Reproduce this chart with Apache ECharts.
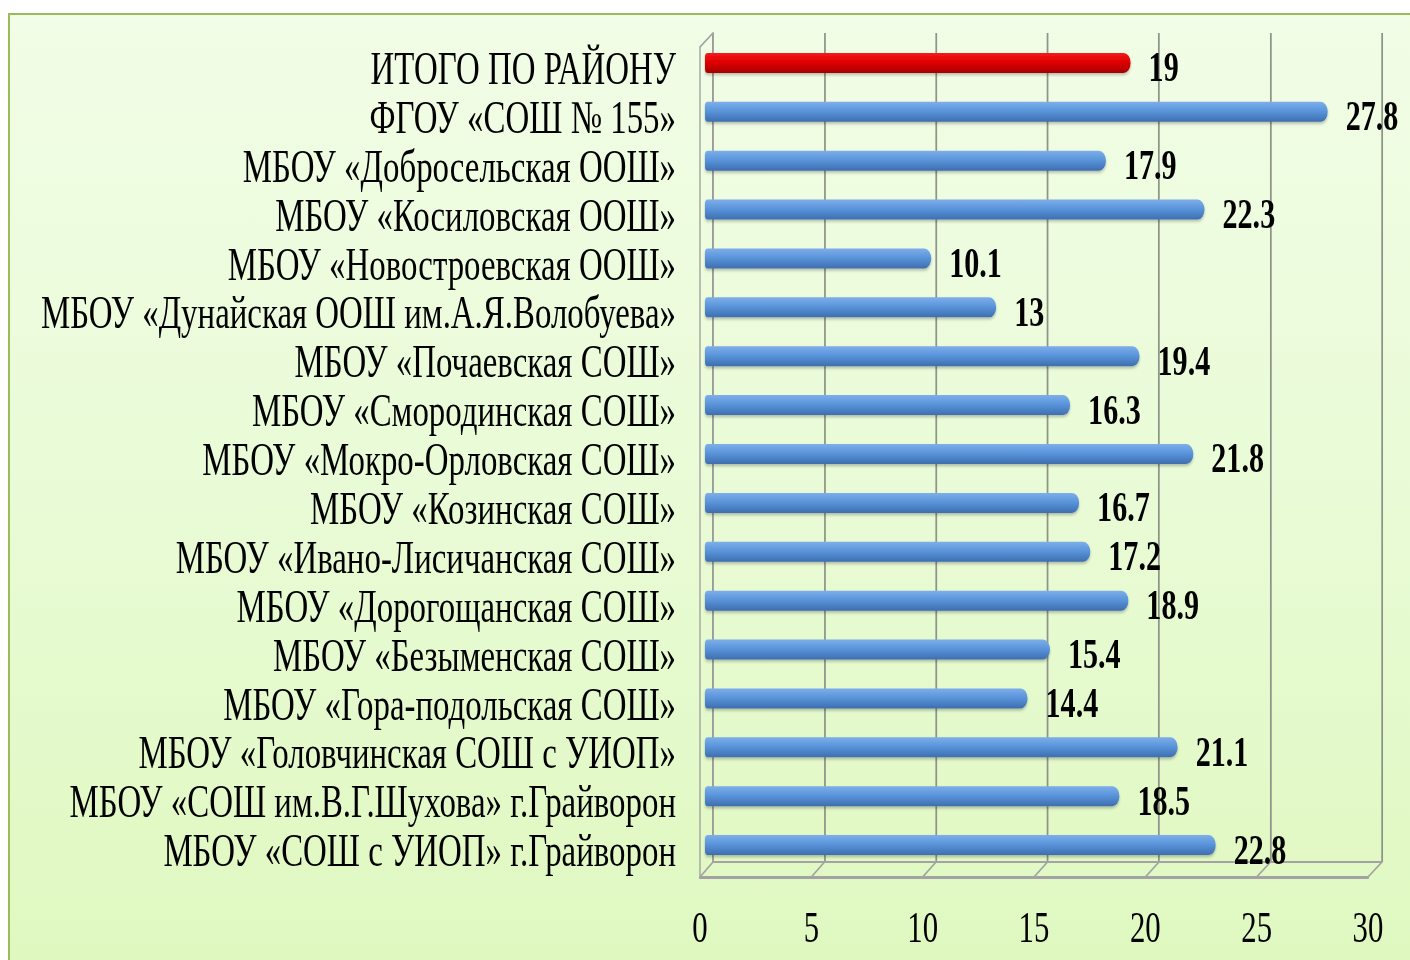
<!DOCTYPE html>
<html>
<head>
<meta charset="utf-8">
<script src="https://cdn.jsdelivr.net/npm/echarts@6/dist/echarts.min.js"></script>
<style>
  html, body { margin: 0; padding: 0; background: #ffffff; overflow: hidden; }
  #panel {
    position: absolute; left: 8px; top: 13px; width: 1420px; height: 960px;
    border-left: 2px solid #9bbb59; border-top: 2px solid #9bbb59;
    background: linear-gradient(180deg, #f1fde6 0%, #e9fbd6 50%, #dff8bf 100%);
  }
  /* the source text is condensed, so the whole chart is squeezed sideways */
  #chart {
    position: absolute; left: 0; top: 0; width: 2014.28px; height: 960px;
    transform: scaleX(0.7); transform-origin: 0 0;
  }
</style>
</head>
<body>
<div id="panel"></div>
<div id="chart"></div>
<script>
const categories = [
  "ИТОГО ПО РАЙОНУ",
  "ФГОУ «СОШ № 155»",
  "МБОУ «Добросельская ООШ»",
  "МБОУ «Косиловская ООШ»",
  "МБОУ «Новостроевская ООШ»",
  "МБОУ «Дунайская ООШ им.А.Я.Волобуева»",
  "МБОУ «Почаевская СОШ»",
  "МБОУ «Смородинская СОШ»",
  "МБОУ «Мокро-Орловская СОШ»",
  "МБОУ «Козинская СОШ»",
  "МБОУ «Ивано-Лисичанская СОШ»",
  "МБОУ «Дорогощанская СОШ»",
  "МБОУ «Безыменская СОШ»",
  "МБОУ «Гора-подольская СОШ»",
  "МБОУ «Головчинская СОШ с УИОП»",
  "МБОУ «СОШ им.В.Г.Шухова» г.Грайворон",
  "МБОУ «СОШ с УИОП» г.Грайворон",
];
const values = [19, 27.8, 17.9, 22.3, 10.1, 13, 19.4, 16.3, 21.8, 16.7, 17.2, 18.9, 15.4, 14.4, 21.1, 18.5, 22.8];
const xTicks = [0, 5, 10, 15, 20, 25, 30];
const totalIndex = 0; // the district total, drawn red

const S = 0.7;
const X = (v) => v / S; // page px -> chart px (before the squeeze)
const FONT = "'Liberation Serif', 'Times New Roman', serif";

const chart = echarts.init(document.getElementById("chart"), null, { renderer: "svg" });

const blue = new echarts.graphic.LinearGradient(0, 0, 0, 1, [
  { offset: 0, color: "#7eaeea" },
  { offset: 0.45, color: "#5a95db" },
  { offset: 1, color: "#3e6eb0" },
]);
const red = new echarts.graphic.LinearGradient(0, 0, 0, 1, [
  { offset: 0, color: "#f51c1c" },
  { offset: 0.45, color: "#e00000" },
  { offset: 1, color: "#a60000" },
]);

const barData = values.map((v, i) => ({
  value: v,
  itemStyle: { color: i === totalIndex ? red : blue },
}));

const wallLine = { color: "#a3a3a3", width: 2 };

const option = {
  animation: false,
  grid: [
    // back wall
    { left: X(713), top: 33, width: X(669), height: 829, outerBoundsMode: "none" },
    // front edge
    { left: X(700), top: 47, width: X(668), height: 830, outerBoundsMode: "none" },
    // bars
    { left: X(705), top: 38.5, width: X(672), height: 831, outerBoundsMode: "none" },
  ],
  xAxis: [
    {
      gridIndex: 0, type: "value", min: 0, max: 30, interval: 5,
      axisLine: { show: true, lineStyle: wallLine },
      axisTick: { show: false },
      axisLabel: { show: false },
      splitLine: { show: true, lineStyle: { color: "#8f948a", width: 2.5 } },
    },
    {
      gridIndex: 1, type: "value", min: 0, max: 30, interval: 5,
      axisLine: { show: true, lineStyle: { color: "#a3a3a3", width: 3 } },
      axisTick: { show: false },
      splitLine: { show: false },
      axisLabel: {
        show: true, color: "#000", fontSize: 44, fontFamily: FONT, margin: 28,
        formatter: (v) => (xTicks.includes(v) ? String(v) : ""),
      },
    },
    { gridIndex: 2, type: "value", min: 0, max: 30, show: false },
  ],
  yAxis: [
    {
      gridIndex: 0, type: "value", min: 0, max: 1,
      axisLine: { show: true, lineStyle: wallLine },
      axisTick: { show: false }, axisLabel: { show: false }, splitLine: { show: false },
    },
    {
      gridIndex: 1, type: "value", min: 0, max: 1,
      axisLine: { show: true, lineStyle: wallLine },
      axisTick: { show: false }, axisLabel: { show: false }, splitLine: { show: false },
    },
    {
      gridIndex: 2, type: "category", data: categories, inverse: true,
      axisLine: { show: false }, axisTick: { show: false }, splitLine: { show: false },
      axisLabel: {
        interval: 0,
        margin: X(29),
        formatter: (v) => "{t|" + v + "}",
        rich: {
          t: {
            color: "#000", fontSize: 47, fontFamily: FONT,
            padding: [11, 0, 0, 0],
          },
        },
      },
    },
  ],
  series: [
    {
      type: "bar",
      xAxisIndex: 2,
      yAxisIndex: 2,
      data: barData,
      barWidth: 20,
      itemStyle: {
        borderRadius: [4, 12, 12, 4],
        shadowColor: "rgba(0,0,0,0.25)",
        shadowBlur: 3,
        shadowOffsetY: 2,
      },
      label: {
        show: true,
        position: "right",
        distance: X(18),
        offset: [0, 4],
        color: "#000",
        fontSize: 43,
        fontWeight: "bold",
        fontFamily: FONT,
      },
    },
  ],
};

chart.setOption(option);

// 3D box: diagonals on the floor and the top of the left wall
const floorLines = xTicks.map((t, i) => {
  const f = chart.convertToPixel({ xAxisIndex: 1, yAxisIndex: 1 }, [t, 0]);
  const b = chart.convertToPixel({ xAxisIndex: 0, yAxisIndex: 0 }, [t, 0]);
  return {
    type: "line", id: "floor" + i, silent: true,
    shape: { x1: f[0], y1: f[1], x2: b[0], y2: b[1] },
    style: { stroke: "#a3a3a3", lineWidth: 2 },
  };
});
const ft = chart.convertToPixel({ xAxisIndex: 1, yAxisIndex: 1 }, [0, 1]);
const bt = chart.convertToPixel({ xAxisIndex: 0, yAxisIndex: 0 }, [0, 1]);
floorLines.push({
  type: "line", id: "wallTop", silent: true,
  shape: { x1: ft[0], y1: ft[1], x2: bt[0], y2: bt[1] },
  style: { stroke: "#a3a3a3", lineWidth: 2 },
});
chart.setOption({ graphic: floorLines });

window.addEventListener("resize", () => {
  chart.resize();
});
</script>
</body>
</html>
